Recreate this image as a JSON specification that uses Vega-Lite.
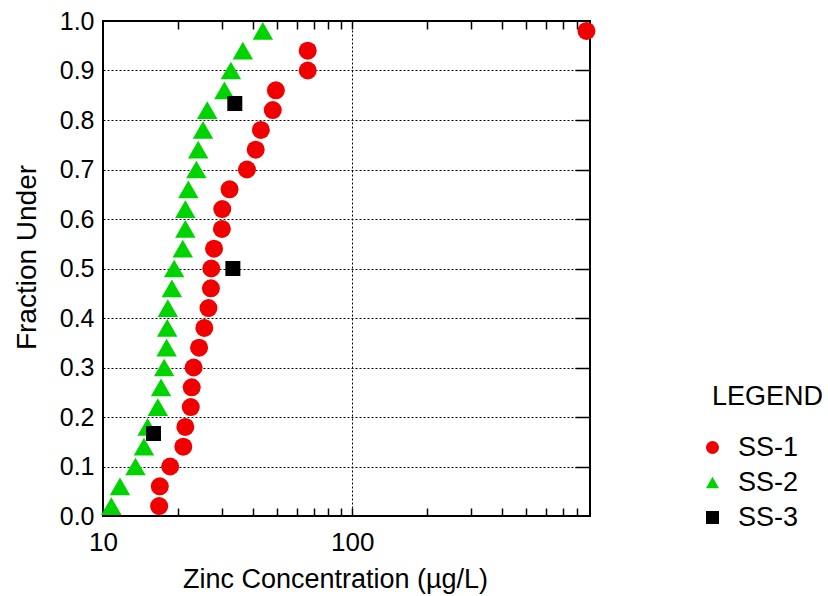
{
  "$schema": "https://vega.github.io/schema/vega-lite/v6.json",
  "width": 487,
  "height": 495,
  "autosize": {"type": "none"},
  "padding": {"left": 103, "top": 21, "right": 238, "bottom": 80},
  "background": "white",
  "config": {
    "font": "Liberation Sans",
    "view": {"stroke": "black", "strokeWidth": 2},
    "axis": {"labelColor": "black", "titleColor": "black", "tickColor": "black", "titleFontWeight": "normal"}
  },
  "data": {
    "values": [
      {"series": "SS-1", "zinc": 16.8, "frac": 0.02},
      {"series": "SS-1", "zinc": 16.9, "frac": 0.06},
      {"series": "SS-1", "zinc": 18.6, "frac": 0.10},
      {"series": "SS-1", "zinc": 21.0, "frac": 0.14},
      {"series": "SS-1", "zinc": 21.4, "frac": 0.18},
      {"series": "SS-1", "zinc": 22.5, "frac": 0.22},
      {"series": "SS-1", "zinc": 22.7, "frac": 0.26},
      {"series": "SS-1", "zinc": 23.1, "frac": 0.30},
      {"series": "SS-1", "zinc": 24.3, "frac": 0.34},
      {"series": "SS-1", "zinc": 25.5, "frac": 0.38},
      {"series": "SS-1", "zinc": 26.5, "frac": 0.42},
      {"series": "SS-1", "zinc": 27.1, "frac": 0.46},
      {"series": "SS-1", "zinc": 27.2, "frac": 0.50},
      {"series": "SS-1", "zinc": 27.9, "frac": 0.54},
      {"series": "SS-1", "zinc": 30.0, "frac": 0.58},
      {"series": "SS-1", "zinc": 30.1, "frac": 0.62},
      {"series": "SS-1", "zinc": 32.2, "frac": 0.66},
      {"series": "SS-1", "zinc": 37.8, "frac": 0.70},
      {"series": "SS-1", "zinc": 41.0, "frac": 0.74},
      {"series": "SS-1", "zinc": 43.0, "frac": 0.78},
      {"series": "SS-1", "zinc": 48.0, "frac": 0.82},
      {"series": "SS-1", "zinc": 49.4, "frac": 0.86},
      {"series": "SS-1", "zinc": 66.3, "frac": 0.90},
      {"series": "SS-1", "zinc": 66.3, "frac": 0.94},
      {"series": "SS-1", "zinc": 871, "frac": 0.98},
      {"series": "SS-2", "zinc": 10.8, "frac": 0.02},
      {"series": "SS-2", "zinc": 11.7, "frac": 0.06},
      {"series": "SS-2", "zinc": 13.5, "frac": 0.10},
      {"series": "SS-2", "zinc": 14.6, "frac": 0.14},
      {"series": "SS-2", "zinc": 15.1, "frac": 0.18},
      {"series": "SS-2", "zinc": 16.6, "frac": 0.22},
      {"series": "SS-2", "zinc": 17.1, "frac": 0.26},
      {"series": "SS-2", "zinc": 17.6, "frac": 0.30},
      {"series": "SS-2", "zinc": 18.0, "frac": 0.34},
      {"series": "SS-2", "zinc": 18.1, "frac": 0.38},
      {"series": "SS-2", "zinc": 18.2, "frac": 0.42},
      {"series": "SS-2", "zinc": 18.9, "frac": 0.46},
      {"series": "SS-2", "zinc": 19.3, "frac": 0.50},
      {"series": "SS-2", "zinc": 20.9, "frac": 0.54},
      {"series": "SS-2", "zinc": 21.4, "frac": 0.58},
      {"series": "SS-2", "zinc": 21.4, "frac": 0.62},
      {"series": "SS-2", "zinc": 22.0, "frac": 0.66},
      {"series": "SS-2", "zinc": 23.7, "frac": 0.70},
      {"series": "SS-2", "zinc": 24.1, "frac": 0.74},
      {"series": "SS-2", "zinc": 25.2, "frac": 0.78},
      {"series": "SS-2", "zinc": 26.2, "frac": 0.82},
      {"series": "SS-2", "zinc": 30.7, "frac": 0.86},
      {"series": "SS-2", "zinc": 32.6, "frac": 0.90},
      {"series": "SS-2", "zinc": 36.4, "frac": 0.94},
      {"series": "SS-2", "zinc": 43.8, "frac": 0.98},
      {"series": "SS-3", "zinc": 15.95, "frac": 0.1667},
      {"series": "SS-3", "zinc": 33.2, "frac": 0.5},
      {"series": "SS-3", "zinc": 33.8, "frac": 0.8333}
    ]
  },
  "resolve": {"axis": {"x": "independent", "y": "independent"}},
  "layer": [
    {
      "transform": [{"filter": "datum.series == 'SS-1'"}],
      "mark": {"type": "point", "filled": true, "opacity": 1, "size": 324, "strokeWidth": 0},
      "encoding": {
        "x": {
          "field": "zinc", "type": "quantitative",
          "scale": {"type": "log", "domain": [10, 900], "nice": false},
          "axis": {
            "orient": "bottom",
            "values": [10, 20, 30, 40, 50, 60, 70, 80, 90, 100, 200, 300, 400, 500, 600, 700, 800],
            "format": "d",
            "labelExpr": "datum.value == 10 || datum.value == 100 ? datum.label : ''",
            "labelOverlap": false,
            "labelFlush": false,
            "labelFontSize": 26,
            "labelPadding": 21,
            "tickSize": -8,
            "tickWidth": 1.5,
            "domain": false,
            "grid": false,
            "title": "Zinc Concentration (µg/L)",
            "titleFontSize": 27,
            "titleX": 232,
            "titleY": 71,
            "titleBaseline": "alphabetic"
          }
        },
        "y": {
          "field": "frac", "type": "quantitative",
          "scale": {"domain": [0, 1], "nice": false, "zero": false},
          "axis": {
            "orient": "left",
            "values": [0, 0.1, 0.2, 0.3, 0.4, 0.5, 0.6, 0.7, 0.8, 0.9, 1.0],
            "format": ".1f",
            "labelFlush": false,
            "labelOverlap": false,
            "labelFontSize": 25,
            "labelPadding": 9,
            "ticks": false,
            "domain": false,
            "grid": true,
            "gridColor": "black",
            "gridDash": [2, 2],
            "gridWidth": 1,
            "title": "Fraction Under",
            "titleFontSize": 28,
            "titleX": -68,
            "titleY": 236,
            "titleBaseline": "alphabetic"
          }
        },
        "color": {
          "field": "series", "type": "nominal",
          "scale": {"domain": ["SS-1", "SS-2", "SS-3"], "range": ["#f00000", "#00d400", "#000000"]},
          "legend": {
            "title": "LEGEND", "orient": "none", "legendX": 609, "legendY": 363,
            "titleFontSize": 27, "titleFontWeight": "normal", "titleColor": "black", "titlePadding": 23,
            "labelFontSize": 27, "labelColor": "black", "labelOffset": 12, "symbolOffset": -13,
            "symbolSize": 170, "symbolStrokeWidth": 0, "rowPadding": 7, "padding": 0
          }
        },
        "shape": {
          "field": "series", "type": "nominal",
          "scale": {"domain": ["SS-1", "SS-2", "SS-3"], "range": ["circle", "triangle-up", "square"]},
          "legend": {
            "title": "LEGEND", "orient": "none", "legendX": 609, "legendY": 363,
            "titleFontSize": 27, "titleFontWeight": "normal", "titleColor": "black", "titlePadding": 23,
            "labelFontSize": 27, "labelColor": "black", "labelOffset": 12, "symbolOffset": -13,
            "symbolSize": 170, "symbolStrokeWidth": 0, "rowPadding": 7, "padding": 0
          }
        }
      }
    },
    {
      "transform": [{"filter": "datum.series == 'SS-2'"}],
      "mark": {"type": "point", "filled": true, "opacity": 1, "size": 420, "strokeWidth": 0},
      "encoding": {
        "x": {
          "field": "zinc", "type": "quantitative",
          "scale": {"type": "log", "domain": [10, 900], "nice": false},
          "axis": {
            "orient": "top",
            "values": [20, 30, 40, 50, 60, 70, 80, 90, 100, 200, 300, 400, 500, 600, 700, 800],
            "labels": false,
            "tickSize": -8,
            "tickWidth": 1.5,
            "domain": false,
            "grid": true,
            "gridColor": "black",
            "gridDash": [2, 2],
            "gridWidth": 1,
            "gridOpacity": {"condition": {"test": "datum.value == 100", "value": 1}, "value": 0},
            "title": null
          }
        },
        "y": {
          "field": "frac", "type": "quantitative",
          "scale": {"domain": [0, 1], "nice": false, "zero": false},
          "axis": {
            "orient": "right",
            "values": [0.1, 0.2, 0.3, 0.4, 0.5, 0.6, 0.7, 0.8, 0.9],
            "labels": false,
            "tickSize": -15,
            "tickWidth": 1.5,
            "domain": false,
            "grid": false,
            "title": null
          }
        },
        "color": {
          "field": "series", "type": "nominal",
          "scale": {"domain": ["SS-1", "SS-2", "SS-3"], "range": ["#f00000", "#00d400", "#000000"]}
        },
        "shape": {
          "field": "series", "type": "nominal",
          "scale": {"domain": ["SS-1", "SS-2", "SS-3"], "range": ["circle", "triangle-up", "square"]}
        }
      }
    },
    {
      "transform": [{"filter": "datum.series == 'SS-3'"}],
      "mark": {"type": "point", "filled": true, "opacity": 1, "size": 225, "strokeWidth": 0},
      "encoding": {
        "x": {
          "field": "zinc", "type": "quantitative",
          "scale": {"type": "log", "domain": [10, 900], "nice": false},
          "axis": null
        },
        "y": {
          "field": "frac", "type": "quantitative",
          "scale": {"domain": [0, 1], "nice": false, "zero": false},
          "axis": null
        },
        "color": {
          "field": "series", "type": "nominal",
          "scale": {"domain": ["SS-1", "SS-2", "SS-3"], "range": ["#f00000", "#00d400", "#000000"]}
        },
        "shape": {
          "field": "series", "type": "nominal",
          "scale": {"domain": ["SS-1", "SS-2", "SS-3"], "range": ["circle", "triangle-up", "square"]}
        }
      }
    }
  ]
}
